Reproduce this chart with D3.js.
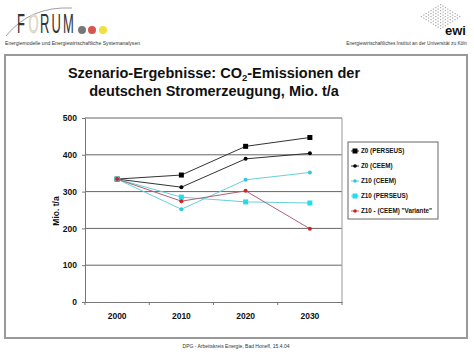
<!DOCTYPE html>
<html><head><meta charset="utf-8">
<script src="https://cdn.jsdelivr.net/npm/d3@7/dist/d3.min.js"></script>
<style>
html,body{margin:0;padding:0;background:#fff;}
svg text{font-family:"Liberation Sans",Arial,sans-serif;}
</style></head>
<body><svg id="c" width="474" height="355"></svg>
<script>
const categories = ["2000","2010","2020","2030"];
const yTicks = [0,100,200,300,400,500];
const seriesNames = ["Z0 (PERSEUS)","Z0 (CEEM)","Z10 (CEEM)","Z10 (PERSEUS)","Z10 - (CEEM) \"Variante\""];
const z0Perseus = [334,345,423,447];
const z0Ceem = [334,312,389,404];
const z10Ceem = [334,252,332,352];
const z10Perseus = [334,285,272,269];
const z10Variante = [334,274,302,199];

const svg = d3.select("#c");

// header
const hdr = svg.append("g");
// FORUM logo
hdr.append("path").attr("d","M6,36 Q30,6 72,8").attr("fill","none").attr("stroke","#888").attr("stroke-width",0.8);
const letters = ["F","O","R","U","M"];
letters.forEach((l,i)=>{
  const lx = 17 + i*11.5;
  hdr.append("text").attr("x",0).attr("y",0).attr("font-size",27)
    .attr("font-family","'DejaVu Sans Condensed','Liberation Sans Narrow',sans-serif")
    .attr("transform",`translate(${lx},33) scale(0.48,1)`)
    .attr("fill", l==="O" ? "#e8e0c0" : "#333").attr("stroke", l==="O"?"#bbb":"none").attr("stroke-width",0.5)
    .text(l);
});
[["#777",82],["#d9534f",92],["#f0e040",103]].forEach(([c,x])=>{
  hdr.append("circle").attr("cx",x).attr("cy",30).attr("r",4).attr("fill",c);
});
hdr.append("text").attr("x",5).attr("y",45).attr("font-size",5.1).attr("fill","#333")
  .text("Energiemodelle und Energiewirtschaftliche Systemanalysen");
// ewi logo
const dots = hdr.append("g");
for(let i=0;i<9;i++){for(let j=0;j<9;j++){
  const cx = 440 + (i-j)*2.4, cy = 4 + (i+j)*1.5;
  if (cy<30) dots.append("rect").attr("x",cx).attr("y",cy).attr("width",1.2).attr("height",1.2).attr("fill","#aaa");
}}
hdr.append("text").attr("x",466).attr("y",35).attr("text-anchor","end").attr("font-size",13).attr("font-weight","bold").attr("fill","#111").text("ewi");
hdr.append("text").attr("x",467).attr("y",45).attr("text-anchor","end").attr("font-size",4.8).attr("fill","#333")
  .text("Energiewirtschaftliches Institut an der Universität zu Köln");

// frame
svg.append("rect").attr("x",5).attr("y",55).attr("width",462).attr("height",283)
  .attr("fill","#fff").attr("stroke","#999").attr("stroke-width",2);

// title
const t = svg.append("text").attr("text-anchor","middle").attr("font-size",14.5).attr("font-weight","bold").attr("fill","#111");
const l1 = t.append("tspan").attr("x",214).attr("y",78);
l1.append("tspan").text("Szenario-Ergebnisse: CO");
l1.append("tspan").attr("font-size",9.5).attr("dy",3).text("2");
l1.append("tspan").attr("dy",-3).text("-Emissionen der");
t.append("tspan").attr("x",214).attr("y",96).text("deutschen Stromerzeugung, Mio. t/a");

// plot
const x0=85,x1=342,y0=302,y1=118;
const x = d3.scaleBand().domain(categories).range([x0,x1]).padding(0);
const y = d3.scaleLinear().domain([0,500]).range([y0,y1]);
const cx = c => x(c)+x.bandwidth()/2;

const grid = svg.append("g");
yTicks.filter(v=>v>0).forEach(v=>{
  grid.append("line").attr("x1",x0).attr("x2",x1).attr("y1",y(v)).attr("y2",y(v)).attr("stroke","#666").attr("stroke-width",1);
});
svg.append("line").attr("x1",x1).attr("x2",x1).attr("y1",y1).attr("y2",y0).attr("stroke","#999").attr("stroke-width",1);

const yAxis = svg.append("g").attr("transform",`translate(${x0},0)`)
  .call(d3.axisLeft(y).tickValues(yTicks).tickSize(3).tickPadding(5));
yAxis.select(".domain").attr("stroke","#777");
yAxis.selectAll(".tick line").attr("stroke","#777");
yAxis.selectAll("text").attr("font-size",8.5).attr("font-weight","bold").attr("fill","#111").attr("font-family","'Liberation Sans',Arial,sans-serif");

const xAxis = svg.append("g").attr("transform",`translate(0,${y0})`)
  .call(d3.axisBottom(x).tickSize(0).tickPadding(11));
xAxis.select(".domain").attr("stroke","#777");
xAxis.selectAll("text").attr("font-size",8.5).attr("font-weight","bold").attr("fill","#111").attr("font-family","'Liberation Sans',Arial,sans-serif");
categories.concat(["end"]).forEach((c,i)=>{
  const xx = x0 + i*x.bandwidth();
  svg.append("line").attr("x1",xx).attr("x2",xx).attr("y1",y0).attr("y2",y0+3).attr("stroke","#777");
});

svg.append("text").attr("transform",`translate(59,${(y0+y1)/2+1}) rotate(-90)`).attr("text-anchor","middle")
  .attr("font-size",8.5).attr("font-weight","bold").attr("fill","#111").text("Mio. t/a");

const series = [
  {vals:z0Perseus, line:"#333", mark:"#000", shape:"square", size:5},
  {vals:z0Ceem, line:"#333", mark:"#000", shape:"circle", size:2},
  {vals:z10Ceem, line:"#66d0dc", mark:"#33c6e0", shape:"circle", size:2},
  {vals:z10Perseus, line:"#66d0dc", mark:"#22dde8", shape:"square", size:5},
  {vals:z10Variante, line:"#b06070", mark:"#d42020", shape:"circle", size:2},
];
const lineGen = d3.line().x((d,i)=>cx(categories[i])).y(d=>y(d));
series.forEach(s=>{
  svg.append("path").attr("d",lineGen(s.vals)).attr("fill","none").attr("stroke",s.line).attr("stroke-width",1);
});
series.forEach(s=>{
  s.vals.forEach((v,i)=>{
    if(s.shape==="square") svg.append("rect").attr("x",cx(categories[i])-s.size/2).attr("y",y(v)-s.size/2)
      .attr("width",s.size).attr("height",s.size).attr("fill",s.mark);
    else svg.append("circle").attr("cx",cx(categories[i])).attr("cy",y(v)).attr("r",s.size).attr("fill",s.mark);
  });
});

// legend
const lg = svg.append("g");
lg.append("rect").attr("x",348).attr("y",142).attr("width",90).attr("height",77).attr("fill","#fff").attr("stroke","#666").attr("stroke-width",1);
seriesNames.forEach((n,i)=>{
  const s = series[i]; const yy = 151 + i*15;
  lg.append("line").attr("x1",351).attr("x2",359).attr("y1",yy).attr("y2",yy).attr("stroke",s.line);
  if(s.shape==="square") lg.append("rect").attr("x",355-2.5).attr("y",yy-2.5).attr("width",5).attr("height",5).attr("fill",s.mark);
  else lg.append("circle").attr("cx",355).attr("cy",yy).attr("r",1.8).attr("fill",s.mark);
  lg.append("text").attr("x",361).attr("y",yy+2.3).attr("font-size",6.3).attr("font-weight","bold").attr("fill","#111").text(n);
});

// footer
svg.append("text").attr("x",236).attr("y",348).attr("text-anchor","middle").attr("font-size",5).attr("fill","#333")
  .text("DPG - Arbeitskreis Energie,  Bad Honeff, 15.4.04");
</script></body></html>
